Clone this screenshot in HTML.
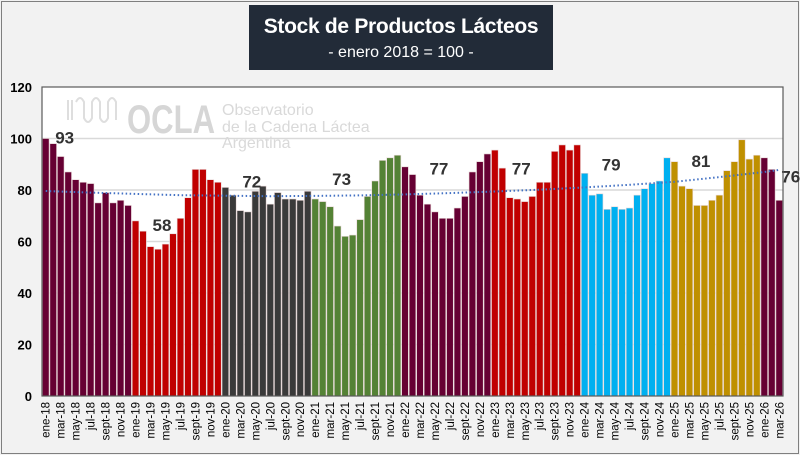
<!DOCTYPE html>
<html><head><meta charset="utf-8"><style>
body{margin:0;width:800px;height:455px;overflow:hidden;background:#f2f2f2;font-family:"Liberation Sans",sans-serif}
#frame{position:absolute;left:1px;top:1px;width:796px;height:451px;border:1px solid #7f7f7f;background:#f2f2f2}
#title{position:absolute;left:249px;top:5px;width:304px;height:65px;background:#222b38;color:#fff;text-align:center;white-space:nowrap}
</style></head><body>
<div id="frame"></div>
<div id="title">
<div style="font-weight:bold;font-size:21px;letter-spacing:-0.3px;margin-top:10px">Stock de Productos Lácteos</div>
<div style="font-size:16px;margin-top:5px">- enero 2018 = 100 -</div>
</div>
<svg id="chart" width="800" height="455" style="position:absolute;left:0;top:0"></svg>
<script>
const years=[2018,2019,2020,2021,2022,2023,2024,2025,2026];
const yearColors=["#660033","#c00000","#3a3a3a","#548235","#660033","#c00000","#00b0f0","#bf9000","#660033"];
const monthNames=["ene","feb","mar","abr","may","jun","jul","ago","sept","oct","nov","dic"];
const values=[
100,98,93,87,84,83,82.5,75,79,75,76,74,
68,64,58,57,59,63,69,77,88,88,84,83,
81,78,72,71.5,79.5,81.5,74.5,79,76.5,76.5,76,79.5,
76.5,75.5,73.5,66,62,62.5,68.5,77.5,83.5,91.5,92.5,93.5,
89,86,78,74.5,71.5,69,69,73,77.5,87,91,94,
95.5,88.5,77,76.5,75.5,77.5,83,83,95,97.5,95.5,97.5,
86.5,78,78.5,72.5,73.5,72.5,73,78,80.5,82.5,83.5,92.5,
91,81.5,80.5,74,74,76,78,87.5,91,99.5,92,93.5,
92.5,88,76];
const trendIndex=[0,6,12,18,24,30,36,42,48,54,60,66,72,78,84,90,96,98];
const trendValues=[79.6,79,78.5,78,77.8,77.6,77.7,77.9,78.3,78.8,79.4,80.1,81,82,83.2,85,87,87.8];
const annotValues=[93,58,72,73,77,77,79,81,76];
const annotIndex=[1,14,26,38,51,62,74,86,98];
const annotLevel=[98,64,81,82,86,86,87.5,89,83];
const yTicks=[0,20,40,60,80,100,120];

const NS="http://www.w3.org/2000/svg";
const svg=document.getElementById('chart');
const L=42,R=783,T=87,B=396,YMAX=120;
const n=values.length,bw=(R-L)/n;
const y=v=>B-(v/YMAX)*(B-T);
const x=i=>L+i*bw;
function mk(tag,attrs,parent){const e=document.createElementNS(NS,tag);for(const k in attrs)e.setAttribute(k,attrs[k]);(parent||svg).appendChild(e);return e;}

const bg=mk('rect',{x:L,y:T,width:R-L,height:B-T,fill:'#fff'});



const wm=mk('g',{fill:'#d9d9d9'});


const wp=mk('path',{d:'M68 100 v20 M72 100 v20 M76 102 q4 -8 8 0 v16 q4 8 8 0 v-16 q4 -8 8 0 v16 q4 8 8 0 v-16 q4-8 8 0 v18',stroke:'#dedede','stroke-width':2,fill:'none'},wm);


const w1=mk('text',{x:127,y:133,'font-size':40,'font-weight':'bold',fill:'#d6d6d6',textLength:88,lengthAdjust:'spacingAndGlyphs'},wm);w1.textContent='OCLA';


[['Observatorio',115],['de la Cadena Láctea',132],['Argentina',148]].forEach(([t,yy])=>{const e=mk('text',{x:222,y:yy,'font-size':16,fill:'#d9d9d9'},wm);e.textContent=t;

});

yTicks.forEach(t=>{
  if(t>0&&t<YMAX){const g=mk('line',{x1:L,x2:R,y1:y(t),y2:y(t),stroke:'#d9d9d9','stroke-width':1.5});
  
  }
  const tx=mk('text',{x:L-10,y:y(t)+5,'text-anchor':'end','font-size':13,'font-weight':'bold',fill:'#000'});
  tx.textContent=t;
  
  
});

values.forEach((v,i)=>{
  const yr=Math.floor(i/12);
  const r=mk('rect',{x:x(i)+0.4,y:y(v),width:bw-0.8,height:B-y(v),fill:yearColors[yr],stroke:'#e8d8d8','stroke-width':0.6});
  
  
  if(i%2===0){
    const cx=x(i)+bw/2;
    const t=mk('text',{x:0,y:0,'font-size':11.5,'text-anchor':'end',fill:'#000',transform:`translate(${cx+4},${B+6}) rotate(-90)`});
    t.textContent=monthNames[i%12]+'-'+String(years[yr]).slice(2);
    
    
  }
});

let d='';
trendIndex.forEach((ti,k)=>{d+=(k?'L':'M')+(x(ti)+bw/2).toFixed(1)+' '+y(trendValues[k]).toFixed(1);});
const tp=mk('path',{d:d,fill:'none',stroke:'#4472c4','stroke-width':2,'stroke-dasharray':'1.5 2.5'});



annotValues.forEach((a,k)=>{
  const t=mk('text',{x:x(annotIndex[k])+bw/2+2,y:y(annotLevel[k]),'font-size':17,'font-weight':'bold',fill:'#333','text-anchor':'start'});
  t.textContent=a;
  
  
});

const fr=mk('rect',{x:L,y:T,width:R-L,height:B-T,fill:'none',stroke:'#595959','stroke-width':1.2});


</script>
</body></html>
